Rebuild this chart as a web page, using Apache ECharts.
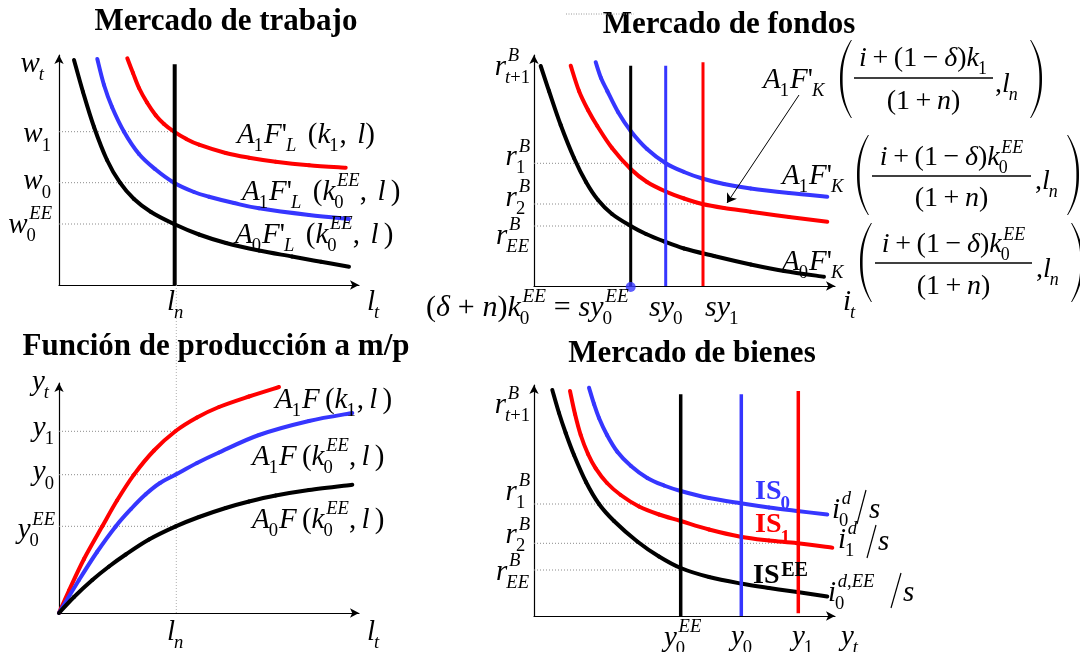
<!DOCTYPE html>
<html><head><meta charset="utf-8">
<script src="https://cdn.jsdelivr.net/npm/echarts@6/dist/echarts.min.js"></script>
<style>html,body{margin:0;padding:0;background:#fff}#c{width:1080px;height:652px}</style>
</head><body><div id="c"></div>
<script>
// ================= DATA =================
// Panel 1: Mercado de trabajo  (x = l_t, y = w_t)
const laborA1k1   = [[68.3,226.7],[74,212],[80,197],[88,182.5],[96.7,169.8],[105,161],[115,153.3],[127,146.2],[140,140.3],[166.7,132],[190,127.3],[216.7,123.3],[250,119.8],[286.7,117.3]];
const laborA1k0EE = [[38.3,226],[45,200],[53,178],[65,153.3],[80,131],[96,116],[115,102.3],[135,93],[150,88.3],[175,82],[200,76.7],[250,70],[290,66]];
const laborA0k0EE = [[15,225],[24,193],[35,158],[48,125],[61,102.3],[75,86],[92,73],[115,61],[140,50.5],[167,42],[200,34.5],[233,28.5],[262,23.2],[290,18.3]];
const laborLn = [[115.7,0],[115.7,220.7]];
const laborLevels = [153.3, 102.3, 61];
const laborTickLabels = ['w_1', 'w_0', 'w_0^{EE}'];

// Panel 2: Mercado de fondos (x = i_t, y = r^B_{t+1})
const fundsA0   = [[6.7,220],[15,195],[26.7,161],[40,128],[52,104],[64,86],[78,72],[96.7,60],[112,52],[130,44.6],[150,37.5],[180,30],[216.7,21.5],[250,15],[290,9.3]];
const fundsA1k1 = [[36.7,220.3],[45,195],[54,176],[63.3,160],[78,138],[96.7,117],[113,104],[131.7,94.5],[150,87.5],[168.3,82],[190,78],[216.7,74.3],[255,69],[293.3,64.3]];
const fundsA1k0 = [[61.7,223.8],[67,208],[73.3,195],[84,174],[96.7,155],[113,137],[131.7,122.8],[150,114],[168.3,107.5],[190,102],[216.7,97.5],[255,93],[293.3,89.3]];
const fundsSavingsX = [96.7, 131.7, 169];    // sy0EE, sy0, sy1
const fundsSavingsTop = [220.3, 220.3, 223.7];
const fundsLevels = [122.7, 82, 60];         // r1, r2, rEE
const fundsLevelEnds = [131.7, 169, 96.7];
const fundsTickLabels = ['r_1^B', 'r_2^B', 'r_{EE}^B'];
const fundsDot = [[96.7, -1]];
const fundsArrow = [[265,191],[193,83]];

// Panel 3: Función de producción (x = l_t, y = y_t)
const prodA1k1 = [[0,0],[10,22.5],[25,54],[43.3,86.7],[58,112.5],[75,138.4],[95,162.5],[116.7,182],[138,195.5],[160,206],[190,216.5],[220,226]];
const prodA1k0 = [[0,0],[20,33],[38,61],[56.7,86.6],[72,104],[86.7,118.7],[101,130],[116.7,138.4],[138,150],[160,160.5],[200,178],[250,192],[293.3,200]];
const prodA0k0 = [[0,0],[15,16],[33.3,33],[50,46.5],[66.7,58.5],[90,73.5],[116.7,86.6],[140,96],[166.7,105],[190,111.5],[216.7,117.5],[250,123],[293.3,128.3]];
const prodLn = [[117.3,0],[117.3,328]];
const prodLevels = [181.7, 138.3, 86.7];
const prodTickLabels = ['y_1', 'y_0', 'y_0^{EE}'];

// Panel 4: Mercado de bienes (x = y_t, y = r^B_{t+1})
const goodsIS0  = [[55,228.3],[60,212],[65,198],[73,181],[83.3,164.3],[97,150],[113.3,138],[130,130.5],[146.7,125],[175,118],[206.7,112.7],[235,108.5],[263.3,105],[293.3,101.5]];
const goodsIS1  = [[36,225],[41,202],[46.7,181],[54,162],[61.7,147.7],[73,133],[86.7,121],[105,109.5],[125,101.5],[146.7,95],[175,86.5],[206.7,79.3],[235,75.5],[263.3,72.7],[298.3,68.3]];
const goodsISEE = [[18.3,226],[25,203],[31.7,183],[40,161],[52,134],[65,112],[80,95],[103.3,74.5],[125,59.5],[146.7,48],[175,39],[206.7,32.5],[235,28],[263.3,24],[293.3,19.5]];
const goodsOutputX = [146.7, 207.3, 264.3];  // y0EE, y0, y1
const goodsOutputTop = [221.7, 221.7, 225];
const goodsLevels = [112, 72.7, 46];
const goodsLevelEnds = [207.3, 264.3, 146.7];
const goodsTickLabels = ['r_1^B', 'r_2^B', 'r_{EE}^B'];

// ================= CHART =================
const RED = '#ff0000', BLUE = '#3636ff', BLACK = '#000000', DOT = '#8a8a8a';
const SERIF = '"Liberation Serif", "Times New Roman", serif';
const chart = echarts.init(document.getElementById('c'), null, {renderer: 'canvas'});

const grids = [
  {left: 59,  top: 55,  width: 300, height: 230},
  {left: 534, top: 55,  width: 301, height: 231},
  {left: 59,  top: 383, width: 300, height: 230},
  {left: 534, top: 385, width: 301, height: 231}
];
function axis(i, max) {
  return {type: 'value', gridIndex: i, min: 0, max: max,
    axisLine: {show: true, onZero: false, symbol: ['none', 'arrow'], symbolSize: [7, 9], lineStyle: {color: '#000', width: 1.2}},
    axisTick: {show: false}, axisLabel: {show: false}, splitLine: {show: false}};
}
const xAxes = grids.map((g, i) => axis(i, g.width));
const yAxes = grids.map((g, i) => axis(i, g.height));

// smooth curve through the read points (Catmull-Rom drawn as bezier segments in pixel space)
function curve(g, data, color, w) {
  return {type: 'custom', coordinateSystem: 'cartesian2d', xAxisIndex: g, yAxisIndex: g, data: data,
    silent: true, z: 3, clip: false,
    renderItem: function (params, api) {
      const i = params.dataIndex, n = data.length;
      if (i >= n - 1) return null;
      const P = k => api.coord(data[Math.max(0, Math.min(n - 1, k))]);
      const p0 = P(i - 1), p1 = P(i), p2 = P(i + 1), p3 = P(i + 2);
      return {type: 'bezierCurve',
        shape: {x1: p1[0], y1: p1[1], x2: p2[0], y2: p2[1],
          cpx1: p1[0] + (p2[0] - p0[0]) / 6, cpy1: p1[1] + (p2[1] - p0[1]) / 6,
          cpx2: p2[0] - (p3[0] - p1[0]) / 6, cpy2: p2[1] - (p3[1] - p1[1]) / 6},
        style: {stroke: color, lineWidth: w, fill: 'none', lineCap: 'round'}};
    }};
}
function seg(g, data, color, w, type, z, clip) {
  return {type: 'line', xAxisIndex: g, yAxisIndex: g, data: data, symbol: 'none', silent: true,
    z: z || 2, clip: clip !== false, lineStyle: {color: color, width: w, type: type || 'solid', cap: 'butt'}};
}
const series = [];
// panel 1
laborLevels.forEach(v => series.push(seg(0, [[0, v], [laborLn[0][0], v]], DOT, 1, [1, 2])));
series.push(curve(0, laborA1k1, RED, 4));
series.push(curve(0, laborA1k0EE, BLUE, 4));
series.push(curve(0, laborA0k0EE, BLACK, 4));
series.push(seg(0, laborLn, BLACK, 4, 'solid', 4));
// panel 2
fundsLevels.forEach((v, i) => series.push(seg(1, [[0, v], [fundsLevelEnds[i], v]], DOT, 1, [1, 2])));
series.push(curve(1, fundsA0, BLACK, 4));
series.push(curve(1, fundsA1k1, RED, 4));
series.push(curve(1, fundsA1k0, BLUE, 4));
[BLACK, BLUE, RED].forEach((c, i) => series.push(seg(1, [[fundsSavingsX[i], 0], [fundsSavingsX[i], fundsSavingsTop[i]]], c, 3, 'solid', 4)));
series.push({type: 'scatter', xAxisIndex: 1, yAxisIndex: 1, data: fundsDot, symbolSize: 10, clip: false, silent: true, z: 6, itemStyle: {color: BLUE}});
series.push({type: 'lines', coordinateSystem: 'cartesian2d', xAxisIndex: 1, yAxisIndex: 1, silent: true, z: 6,
  symbol: ['none', 'arrow'], symbolSize: 9, data: [{coords: fundsArrow}], lineStyle: {color: '#000', width: 1, curveness: 0, opacity: 1}});
// panel 3
prodLevels.forEach(v => series.push(seg(2, [[0, v], [prodLn[0][0], v]], DOT, 1, [1, 2])));
series.push(seg(2, prodLn, '#b0b0b0', 1, [1, 2], 1, false));
series.push(curve(2, prodA1k1, RED, 4));
series.push(curve(2, prodA1k0, BLUE, 4));
series.push(curve(2, prodA0k0, BLACK, 4));
// panel 4
goodsLevels.forEach((v, i) => series.push(seg(3, [[0, v], [goodsLevelEnds[i], v]], DOT, 1, [1, 2])));
series.push(curve(3, goodsIS0, BLUE, 4));
series.push(curve(3, goodsIS1, RED, 4));
series.push(curve(3, goodsISEE, BLACK, 4));
[BLACK, BLUE, RED].forEach((c, i) => series.push(seg(3, [[goodsOutputX[i], i === 2 ? 2.7 : 0], [goodsOutputX[i], goodsOutputTop[i]]], c, 3.5, 'solid', 4)));

chart.setOption({animation: false, backgroundColor: '#fff', grid: grids, xAxis: xAxes, yAxis: yAxes, series: series});

// ================= MATH TEXT LAYOUT =================
const G = [];
const mctx = document.createElement('canvas').getContext('2d');
function fstr(size, italic, bold) { return (italic ? 'italic ' : '') + (bold ? 'bold ' : '') + size.toFixed(1) + 'px ' + SERIF; }
function tw(t, f) { mctx.font = f; return mctx.measureText(t).width; }
const isLetter = c => /[A-Za-zδ]/.test(c);
const isOp = c => '+−='.indexOf(c) >= 0;
function parse(str) {
  const atoms = []; let i = 0;
  const group = () => { if (str[i] === '{') { const j = str.indexOf('}', i); const g = str.slice(i + 1, j); i = j + 1; return g; } return str[i++]; };
  while (i < str.length) {
    const c = str[i];
    if (c === '_' || c === '^') { i++; const g = group(); const a = atoms[atoms.length - 1]; if (c === '_') a.sub = g; else a.sup = g; }
    else { atoms.push({base: c}); i++; }
  }
  return atoms;
}
function layout(str, S, o) {
  o = o || {};
  const s = S * (o.scriptScale || 0.64);
  const items = []; let x = 0;
  const put = (t, x0, y0, size) => { let w = 0; for (const c of t) { const it = !o.upright && isLetter(c); const f = fstr(size, it, o.bold); items.push({t: c, x: x0 + w, y: y0, font: f}); w += tw(c, f); } return w; };
  for (const a of parse(str)) {
    if (a.base === '~') { x += S * 0.18; continue; }
    const pad = isOp(a.base) ? S * (o.opPad || 0.2) : 0;
    x += pad;
    x += put(a.base, x, 0, S) + pad;
    let ws = 0, wp = 0;
    if (a.sub != null) ws = put(a.sub, x + (o.subDx || -1), S * (o.subDy != null ? o.subDy : 0.38), s);
    if (a.sup != null) wp = S * 0.06 + put(a.sup, x + S * 0.06, S * (o.supDy != null ? o.supDy : -0.36), s);
    x += Math.max(ws, wp);
  }
  return {width: x, items: items};
}
function math(str, x, y, S, o) {
  o = o || {};
  const L = layout(str, S, o);
  let x0 = x;
  if (o.align === 'right') x0 = x - L.width; else if (o.align === 'center') x0 = x - L.width / 2;
  L.items.forEach(it => G.push({type: 'text', silent: true, z: 50, x: x0 + it.x, y: y + it.y,
    style: {text: it.t, font: it.font, fill: o.color || '#000', textAlign: 'left', textVerticalAlign: 'middle', verticalAlign: 'middle'}}));
  return L.width;
}
function line(x1, y1, x2, y2, w, dash, color) {
  G.push({type: 'line', silent: true, z: 50, shape: {x1: x1, y1: y1, x2: x2, y2: y2},
    style: {stroke: color || '#000', lineWidth: w || 1.2, lineDash: dash || null}});
}
function paren(x, yTop, yBot, side) {
  const w = 11, th = 2.6, end = 0.9, n = 30, h = yBot - yTop;
  const outer = [], inner = [];
  for (let i = 0; i <= n; i++) {
    const u = -1 + 2 * i / n, y = yTop + (u + 1) / 2 * h;
    const xo = w * Math.pow(Math.abs(u), 2.3), xi = xo + th * (1 - u * u) + end * u * u;
    if (side === 'left') { outer.push([x + xo, y]); inner.push([x + xi, y]); }
    else { outer.push([x + w - xo, y]); inner.push([x + w - xi, y]); }
  }
  G.push({type: 'polygon', silent: true, z: 50, shape: {points: outer.concat(inner.reverse())}, style: {fill: '#000'}});
}
function bigFormula(pre, num, f) {
  math(pre, f.ax, f.ay, 29);
  paren(f.px, f.pt, f.pb, 'left');
  const cx = (f.b0 + f.b1) / 2;
  math(num, cx, f.ny, 28, {align: 'center'});
  line(f.b0, f.by, f.b1, f.by, 1.3);
  math('(1+n)', cx, f.dy, 28, {align: 'center'});
  math(',l_n', f.cx, f.cy, 28);
  paren(f.qx, f.pt, f.pb, 'right');
}
function title(t, x, y) {
  G.push({type: 'text', silent: true, z: 50, x: x, y: y,
    style: {text: t, font: 'bold 31px ' + SERIF, fill: '#000', textAlign: 'center', textVerticalAlign: 'middle', verticalAlign: 'middle'}});
}
const px = (g, v) => chart.convertToPixel({gridIndex: g}, v);

// ---- titles
title('Mercado de trabajo', 226, 22);
title('Mercado de fondos', 729, 25);
title('Función de producción a m/p', 216, 347);
title('Mercado de bienes', 692, 354);
line(566, 14, 634, 14, 1, [1, 1.5], '#999');

// ---- panel 1 labels
math('w_t', 45, 64, 29, {align: 'right'});
laborTickLabels.forEach((t, i) => { const p = px(0, [0, laborLevels[i]]); math(t, p[0] - 7, p[1] + [3, -1, 1][i], 29, {align: 'right'}); });
math('l_n', 167, 302, 29);
math('l_t', 367, 302, 29);
math("A_1F'_L~~(k_1,~~l)", 237, 135, 29);
math("A_1F'_L~~(k_0^{EE},~~l~)", 242, 192, 29);
math("A_0F'_L~~(k_0^{EE},~~l~)", 235, 235, 29);

// ---- panel 2 labels
math('r_{t+1}^B', 531, 67, 29, {align: 'right'});
fundsTickLabels.forEach((t, i) => { const p = px(1, [0, fundsLevels[i]]); math(t, p[0] - 4, p[1] + [-6, -6, 10][i], 29, {align: 'right'}); });
math('(δ+n)k_0^{EE}=sy_0^{EE}', 426, 308, 30, {opPad: 0.26});
math('sy_0', 649, 308, 30);
math('sy_1', 705, 308, 30);
math('i_t', 843, 302, 29);
bigFormula("A_1F'_K", 'i+(1−δ)k_1', {ax: 763, ay: 80, px: 840, pt: 40, pb: 118, b0: 854, b1: 993, by: 78, ny: 59, dy: 102, cx: 995, cy: 85, qx: 1031});
bigFormula("A_1F'_K", 'i+(1−δ)k_0^{EE}', {ax: 782, ay: 176, px: 857, pt: 135, pb: 215, b0: 872, b1: 1031, by: 176, ny: 158, dy: 199, cx: 1035, cy: 182, qx: 1068});
bigFormula("A_0F'_K", 'i+(1−δ)k_0^{EE}', {ax: 782, ay: 262, px: 860, pt: 223, pb: 302, b0: 875, b1: 1032, by: 263, ny: 245, dy: 287, cx: 1036, cy: 270, qx: 1072});

// ---- panel 3 labels
math('y_t', 50, 382, 29, {align: 'right'});
prodTickLabels.forEach((t, i) => { const p = px(2, [0, prodLevels[i]]); math(t, p[0] - 4, p[1] + [-3, -2, 4][i], 29, {align: 'right'}); });
math('l_n', 167, 632, 29);
math('l_t', 367, 632, 29);
math('A_1F~(k_1,~l~)', 275, 400, 29);
math('A_1F~(k_0^{EE},~l~)', 252, 457, 29);
math('A_0F~(k_0^{EE},~l~)', 252, 520, 29);

// ---- panel 4 labels
math('r_{t+1}^B', 531, 405, 29, {align: 'right'});
goodsTickLabels.forEach((t, i) => { const p = px(3, [0, goodsLevels[i]]); math(t, p[0] - 4, p[1] + [-12, -8, 2][i], 29, {align: 'right'}); });
math('y_0^{EE}', 664, 638, 29);
math('y_0', 731, 637, 29);
math('y_1', 792, 637, 29);
math('y_t', 841, 637, 29);
math('IS_0', 755, 492, 28, {upright: true, bold: true, color: BLUE, scriptScale: 0.68, subDy: 0.42});
math('IS_1', 755, 525, 28, {upright: true, bold: true, color: RED, scriptScale: 0.68, subDy: 0.46});
math('IS^{EE}', 753, 576, 28, {upright: true, bold: true, color: BLACK, scriptScale: 0.72, supDy: -0.17});
math('i_0^d', 832, 510, 29);
line(866, 490, 857, 524, 1.2); math('s', 869, 510, 29);
math('i_1^d', 838, 540, 29);
line(876, 525, 867, 558, 1.2); math('s', 878, 542, 29);
math('i_0^{d,EE}', 828, 593, 29);
line(901, 573, 891, 608, 1.2); math('s', 903, 593, 29);

chart.setOption({graphic: {elements: G}});
</script></body></html>
